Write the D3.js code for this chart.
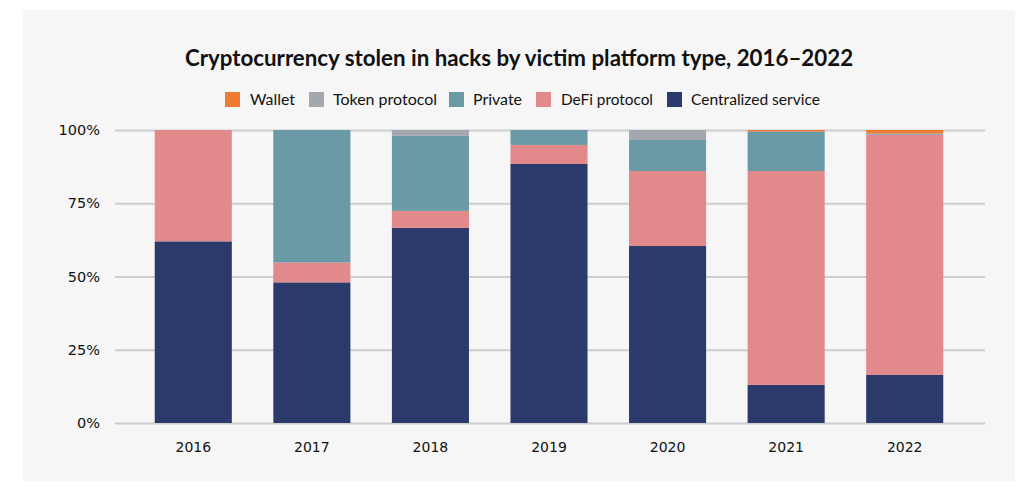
<!DOCTYPE html>
<html><head><meta charset="utf-8">
<script src="https://cdn.jsdelivr.net/npm/d3@7"></script>
<style>
html,body{margin:0;padding:0;background:#fff;}
svg{display:block;font-family:Lato, "Open Sans", sans-serif;}
</style></head>
<body><svg id="c" width="1028" height="498"></svg>
<script>
const years = ["2016","2017","2018","2019","2020","2021","2022"];
const seriesNames = ["Centralized service","DeFi protocol","Private","Token protocol","Wallet"];
const centralized = [62, 48, 66.6, 88.4, 60.4, 13, 16.4];
const defi = [38, 6.8, 5.8, 6.5, 25.6, 73, 82];
const privateV = [0, 45.2, 25.6, 5.1, 10.6, 13.5, 0.4];
const token = [0, 0, 2, 0, 3.4, 0, 0];
const wallet = [0, 0, 0, 0, 0, 0.5, 1.2];
const colors = ["#2B3A6B","#E2898C","#6A9AA6","#A3A8AF","#F07B32"];
const yTicks = [0, 25, 50, 75, 100];
const legendOrder = ["Wallet","Token protocol","Private","DeFi protocol","Centralized service"];

const svg = d3.select("#c");
svg.append("rect").attr("x",23).attr("y",10).attr("width",992).attr("height",471).attr("fill","#F6F6F6");

svg.append("text").attr("x",519).attr("y",66).attr("text-anchor","middle")
  .attr("font-size",22.3).attr("font-weight",700).attr("fill","#111")
  .text("Cryptocurrency stolen in hacks by victim platform type, 2016–2022");

const rows = years.map((y,i)=>({year:y, "Centralized service":centralized[i], "DeFi protocol":defi[i], "Private":privateV[i], "Token protocol":token[i], "Wallet":wallet[i]}));
const stack = d3.stack().keys(seriesNames)(rows);
const color = d3.scaleOrdinal().domain(seriesNames).range(colors);

const x = d3.scaleBand().domain(years).range([134,964]).paddingInner(0.35).paddingOuter(0.175);
const y = d3.scaleLinear().domain([0,100]).range([423,130]);

// grid
const gAx = svg.append("g").attr("transform","translate(115,0)")
  .call(d3.axisLeft(y).tickValues(yTicks).tickFormat(d=>d+"%").tickSize(-870).tickPadding(15));
gAx.select(".domain").remove();
gAx.selectAll(".tick line").attr("stroke","#CDCDCD").attr("stroke-width",2);
gAx.selectAll(".tick text").attr("font-size",14.5).attr("fill","#111").attr("font-family","'DejaVu Sans', sans-serif");

svg.append("g").selectAll("g").data(stack).join("g").attr("fill",d=>color(d.key))
  .selectAll("rect").data(d=>d).join("rect")
  .attr("x",d=>x(d.data.year)).attr("width",x.bandwidth())
  .attr("y",d=>y(d[1])).attr("height",d=>Math.max(0,y(d[0])-y(d[1])));

const gX = svg.append("g").attr("transform","translate(0,423)")
  .call(d3.axisBottom(x).tickSize(0).tickPadding(19));
gX.select(".domain").remove();
gX.selectAll(".tick text").attr("font-size",14).attr("fill","#111").attr("font-family","'DejaVu Sans', sans-serif");

// legend
const legSq = [225, 309, 449, 536, 667];
const legTx = [250, 333, 473, 561, 691];
const legW = [45, 104, 49, 92, 129];
const lg = svg.append("g");
legendOrder.forEach((n,i)=>{
  lg.append("rect").attr("x",legSq[i]).attr("y",92).attr("width",15).attr("height",15).attr("fill",color(n));
  lg.append("text").attr("x",legTx[i]).attr("y",105).attr("font-size",15.5).attr("fill","#111")
    .attr("textLength",legW[i]).attr("lengthAdjust","spacingAndGlyphs").text(n);
});
</script></body></html>
